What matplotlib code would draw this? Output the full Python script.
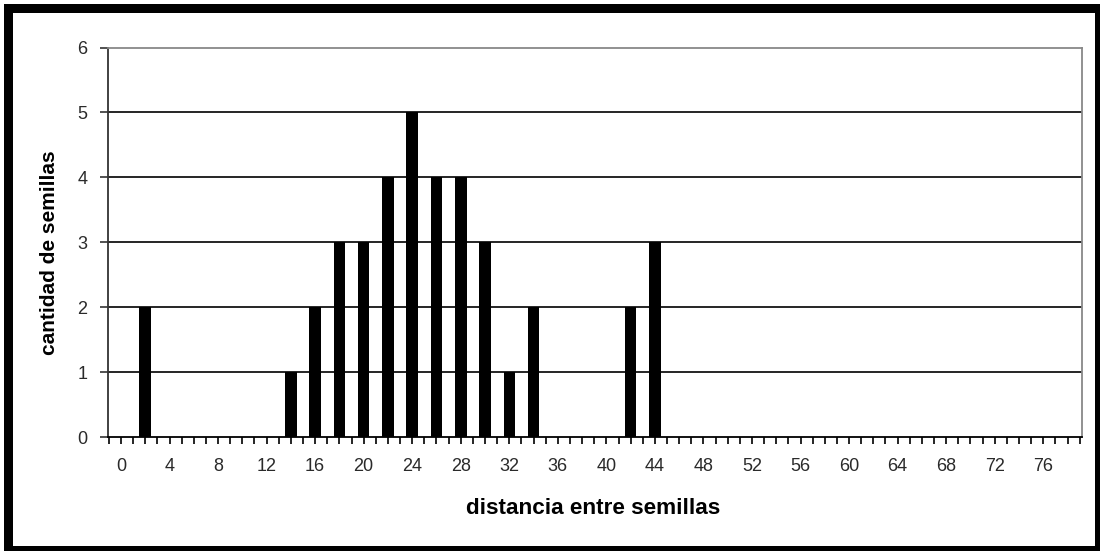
import matplotlib.pyplot as plt
from matplotlib.patches import Rectangle

# data
distancia = [2, 14, 16, 18, 20, 22, 24, 26, 28, 30, 32, 34, 42, 44]
cantidad = [2, 1, 2, 3, 3, 4, 5, 4, 4, 3, 1, 2, 2, 3]
x_labels = list(range(0, 77, 4))
y_ticks = list(range(0, 7))

W, H = 1100, 551
fig = plt.figure(figsize=(W / 100, H / 100), dpi=100)
fig.patch.set_facecolor('white')

# thick black frame around the whole picture (pixel coords -> figure fraction)
def frame(x0, y0, x1, y1):
    fig.patches.append(Rectangle((x0 / W, 1 - y1 / H), (x1 - x0) / W, (y1 - y0) / H,
                                 transform=fig.transFigure, facecolor='black',
                                 edgecolor='none', zorder=10))

frame(4, 4, 13, 551)
frame(4, 4, 1100, 13)
frame(1095, 4, 1100, 551)
frame(4, 546, 1100, 551)

ax = fig.add_axes([108 / W, 1 - 437.3 / H, (1081.7 - 108) / W, (437.3 - 47.5) / H])

ax.bar(distancia, cantidad, width=0.95, color='black', zorder=3)

ax.set_xlim(-1.07, 79.17)
ax.set_ylim(0, 6)

ax.set_yticks(y_ticks)
ax.set_xticks(x_labels)
ax.set_xticks(range(-1, 80), minor=True)

tick_font = dict(family='Liberation Sans', size=13)
ax.set_xticklabels([str(v) for v in x_labels], **tick_font, color='#2a2a2a')
ax.set_yticklabels([str(v) for v in y_ticks], **tick_font, color='#2a2a2a')

ax.tick_params(axis='x', which='both', direction='out', length=5, width=1.2,
               color='black', pad=10)
ax.tick_params(axis='y', which='major', direction='out', length=6, width=1.2,
               color='#333333', pad=9)

# horizontal gridlines in black
for v in y_ticks[1:-1]:
    ax.axhline(v, color='black', linewidth=1.2, zorder=1)

ax.spines['top'].set_color('#888888')
ax.spines['right'].set_color('#888888')
ax.spines['left'].set_color('#333333')
ax.spines['bottom'].set_color('black')
for s in ax.spines.values():
    s.set_linewidth(1.3)

fig.text(593 / W, 1 - 508 / H, 'distancia entre semillas', ha='center', va='center',
         family='Liberation Sans', weight='bold', size=16.2)
fig.text(50 / W, 1 - 253 / H, 'cantidad de semillas', ha='center', va='center',
         rotation=90, family='Liberation Sans', weight='bold', size=15)

fig.savefig('out.png', dpi=100)
